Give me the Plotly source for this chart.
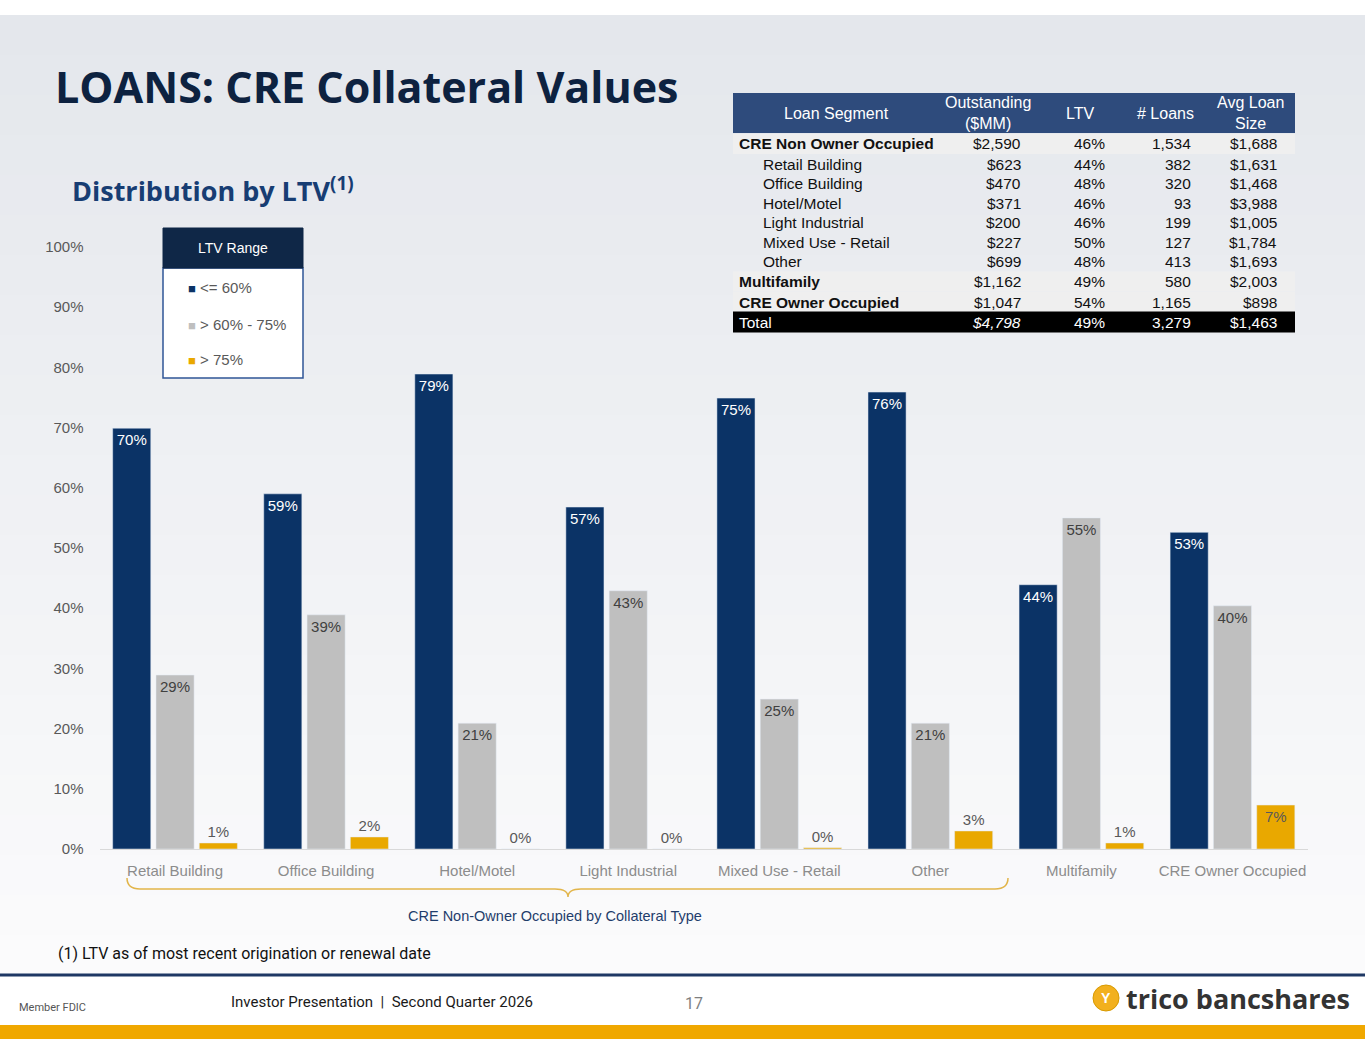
import plotly.graph_objects as go

W, H = 1365, 1055

# chart data (share of loans by LTV range, %)
categories = ['Retail Building', 'Office Building', 'Hotel/Motel', 'Light Industrial',
              'Mixed Use - Retail', 'Other', 'Multifamily', 'CRE Owner Occupied']
ltv_low = [69.9, 59.0, 78.9, 56.8, 74.9, 75.9, 43.9, 52.6]
ltv_mid = [28.9, 38.9, 20.9, 42.9, 24.9, 20.9, 55.0, 40.4]
ltv_high = [1.0, 2.0, 0.0, 0.0, 0.2, 3.0, 1.0, 7.3]
series_names = ['<= 60%', '> 60% - 75%', '> 75%']
y_ticks = [0, 10, 20, 30, 40, 50, 60, 70, 80, 90, 100]

# table data
segments = ['CRE Non Owner Occupied', 'Retail Building', 'Office Building', 'Hotel/Motel',
            'Light Industrial', 'Mixed Use - Retail', 'Other', 'Multifamily',
            'CRE Owner Occupied', 'Total']
outstanding = ['$2,590', '$623', '$470', '$371', '$200', '$227', '$699', '$1,162', '$1,047', '$4,798']
ltv = ['46%', '44%', '48%', '46%', '46%', '50%', '48%', '49%', '54%', '49%']
n_loans = ['1,534', '382', '320', '93', '199', '127', '413', '580', '1,165', '3,279']
avg_size = ['$1,688', '$1,631', '$1,468', '$3,988', '$1,005', '$1,784', '$1,693', '$2,003', '$898', '$1,463']
headers = ['Loan Segment', 'Outstanding<br>($MM)', 'LTV', '# Loans', 'Avg Loan<br>Size']

# table row styling (layout only)
row_style = ['group', 'sub', 'sub', 'sub', 'sub', 'sub', 'sub', 'group', 'group', 'total']

NAVY = '#0b3366'
GRAY = '#bfbfbf'
GOLD = '#e9a800'
FONT = 'Liberation Sans, Arial, sans-serif'


# pixel -> paper helpers (figure has zero margins)
def px(x):
    return x / W


def py(y):
    return 1 - y / H


fig = go.Figure()

label_font = dict(size=15, family=FONT)
fig.add_trace(go.Bar(x=categories, y=ltv_low, name=series_names[0], marker_color=NAVY,
                     texttemplate='%{y:.0f}%', textposition='inside', insidetextanchor='end',
                     textfont=dict(color='white', **label_font), textangle=0))
fig.add_trace(go.Bar(x=categories, y=ltv_mid, name=series_names[1], marker_color=GRAY,
                     texttemplate='%{y:.0f}%', textposition='inside', insidetextanchor='end',
                     textfont=dict(color='#404040', **label_font), textangle=0))
gold_pos = ['outside'] * 7 + ['inside']
fig.add_trace(go.Bar(x=categories, y=ltv_high, name=series_names[2], marker_color=GOLD,
                     texttemplate='%{y:.0f}%', textposition=gold_pos, insidetextanchor='end',
                     textfont=dict(color='#595959', **label_font), textangle=0,
                     cliponaxis=False))

shapes = []
annotations = []


def rect(x0, y0, x1, y1, fill, line=None, layer='above'):
    shapes.append(dict(type='rect', xref='paper', yref='paper', layer=layer,
                       x0=px(x0), x1=px(x1), y0=py(y1), y1=py(y0), fillcolor=fill,
                       line=line if line else dict(width=0)))


def label(text, x, y, size, color, family=FONT, anchor='left'):
    annotations.append(dict(text=text, xref='paper', yref='paper', x=px(x), y=py(y),
                            xanchor=anchor, yanchor='middle', showarrow=False,
                            font=dict(family=family, size=size, color=color)))


# slide background bands
top_c = (228, 231, 236)
bot_c = (251, 251, 252)
nb = 24
for i in range(nb):
    t = i / (nb - 1)
    c = tuple(round(top_c[k] + (bot_c[k] - top_c[k]) * t) for k in range(3))
    y0 = 15 + i * (975 - 15) / nb
    y1 = 15 + (i + 1) * (975 - 15) / nb + 1
    rect(0, y0, W, y1, 'rgb(%d,%d,%d)' % c, layer='below')

# ---- table (top right)
tx0, tx1 = 733, 1295
rect(tx0, 93, tx1, 133, '#2e4b7c')
head_x = [836, 988, 1080, 1165, 1250]
for h, hx in zip(headers, head_x):
    label(h, hx, 113, 16, 'white', anchor='center')

row_y = [144, 164, 183.5, 203, 222.5, 242, 261.5, 281.5, 302, 322]
row_h = 20
col_right = [None, 1023, 1107, 1193, 1279]
for r, style in enumerate(row_style):
    yc = row_y[r]
    if style == 'group':
        rect(tx0, yc - row_h / 2, tx1, yc + row_h / 2, '#efefef')
    elif style == 'total':
        rect(tx0, yc - 10.5, tx1, yc + 10.5, '#000000')
    col = 'white' if style == 'total' else '#111111'
    name = segments[r]
    if style == 'group':
        name = '<b>%s</b>' % name
    nx = 761 if style == 'sub' else 737
    label(name, nx, yc, 15.5, col)
    vals = [outstanding[r], ltv[r], n_loans[r], avg_size[r]]
    for c, v in enumerate(vals):
        if style == 'total' and c == 0:
            v = '<i>%s</i>' % v
        label(v, col_right[c + 1], yc, 15.5, col, anchor='right')

# ---- legend box
rect(163, 268, 303, 378, 'white', line=dict(color='#2f5597', width=1.5))
rect(163, 228, 303, 268, '#0f2747', line=dict(color='#0f2747', width=1))
label('LTV Range', 233, 248, 14, 'white', anchor='center')
legend_colors = [NAVY, GRAY, GOLD]
legend_y = [288, 324, 360]
for name, col, yy in zip(series_names, legend_colors, legend_y):
    label('<span style="color:%s;font-size:13px">■</span> %s' % (col, name.replace('<', '&lt;')),
          186, yy, 15, '#595959')

# ---- brace below non-owner occupied categories
bx0, bx1, bm = 127, 1008, 568
ytop, ymid, ytip = 878, 889, 897
pts = [('M', bx0, ytop), ('Q', bx0, ymid), ('', bx0 + 13, ymid), ('L', bm - 13, ymid),
       ('Q', bm, ymid), ('', bm, ytip), ('Q', bm, ymid), ('', bm + 13, ymid),
       ('L', bx1 - 13, ymid), ('Q', bx1, ymid), ('', bx1, ytop)]
path = ' '.join(('%s ' % c if c else '') + '%.5f,%.5f' % (px(x), py(y)) for c, x, y in pts)
shapes.append(dict(type='path', xref='paper', yref='paper', path=path,
                   line=dict(color='#e2b54a', width=1.5)))
label('CRE Non-Owner Occupied by Collateral Type', 555, 916, 14.5, '#1f3d6b', anchor='center')

# ---- titles and notes
label('<b>LOANS: CRE Collateral Values</b>', 53, 87, 43, '#0d2240', family='Open Sans')
label('<b>Distribution by LTV</b><sup><b>(1)</b></sup>', 70, 190, 27, '#173d73', family='Open Sans')
label('(1) LTV as of most recent origination or renewal date', 56, 953, 16, '#111111', family='Roboto')

# ---- footer
shapes.append(dict(type='line', xref='paper', yref='paper', x0=0, x1=1, y0=py(975), y1=py(975),
                   line=dict(color='#1f3864', width=3)))
rect(0, 1025, W, 1039, '#f0a800')
shapes.append(dict(type='circle', xref='paper', yref='paper', x0=px(1093), x1=px(1119),
                   y0=py(1011), y1=py(985), fillcolor='#f2b01e', line=dict(color='#d89a00', width=1)))
label('<b>Y</b>', 1106, 998, 14, 'white', anchor='center')
label('<b>trico bancshares</b>', 1124, 998, 27, '#333333', family='Open Sans')
label('Member FDIC', 17, 1007, 11, '#555555', family='Roboto')
label('Investor Presentation  |  Second Quarter 2026', 229, 1002, 15, '#1a1a1a', family='Roboto')
label('17', 694, 1003, 16, '#7f7f7f', family='Roboto', anchor='center')

fig.update_layout(
    width=W, height=H,
    margin=dict(l=0, r=0, t=0, b=0, autoexpand=False),
    paper_bgcolor='white',
    plot_bgcolor='rgba(0,0,0,0)',
    barmode='group',
    bargap=0.14,
    bargroupgap=0.12,
    showlegend=False,
    shapes=shapes,
    annotations=annotations,
    xaxis=dict(domain=[px(99.5), px(1308)], showline=True, linecolor='#d9d9d9', linewidth=1,
               automargin=False, ticks='outside', ticklen=8, tickcolor='rgba(0,0,0,0)',
               tickfont=dict(family=FONT, size=15, color='#8c8c8c')),
    yaxis=dict(domain=[py(849), py(247)], range=[0, 100], tickvals=y_ticks,
               ticktext=['%d%%' % v for v in y_ticks], showgrid=False, zeroline=False,
               automargin=False, ticks='outside', ticklen=12, tickcolor='rgba(0,0,0,0)',
               tickfont=dict(family=FONT, size=15, color='#595959')),
)

# pin the figure to the page corner
page_js = ("document.documentElement.style.margin='0';"
           "document.body.style.margin='0';document.body.style.padding='0';"
           "document.body.style.overflow='hidden';"
           "var g=document.querySelector('.plotly-graph-div');"
           "g.style.position='absolute';g.style.top='0px';g.style.left='0px';")
fig.write_html("out.html", config={'displayModeBar': False}, post_script=page_js)
